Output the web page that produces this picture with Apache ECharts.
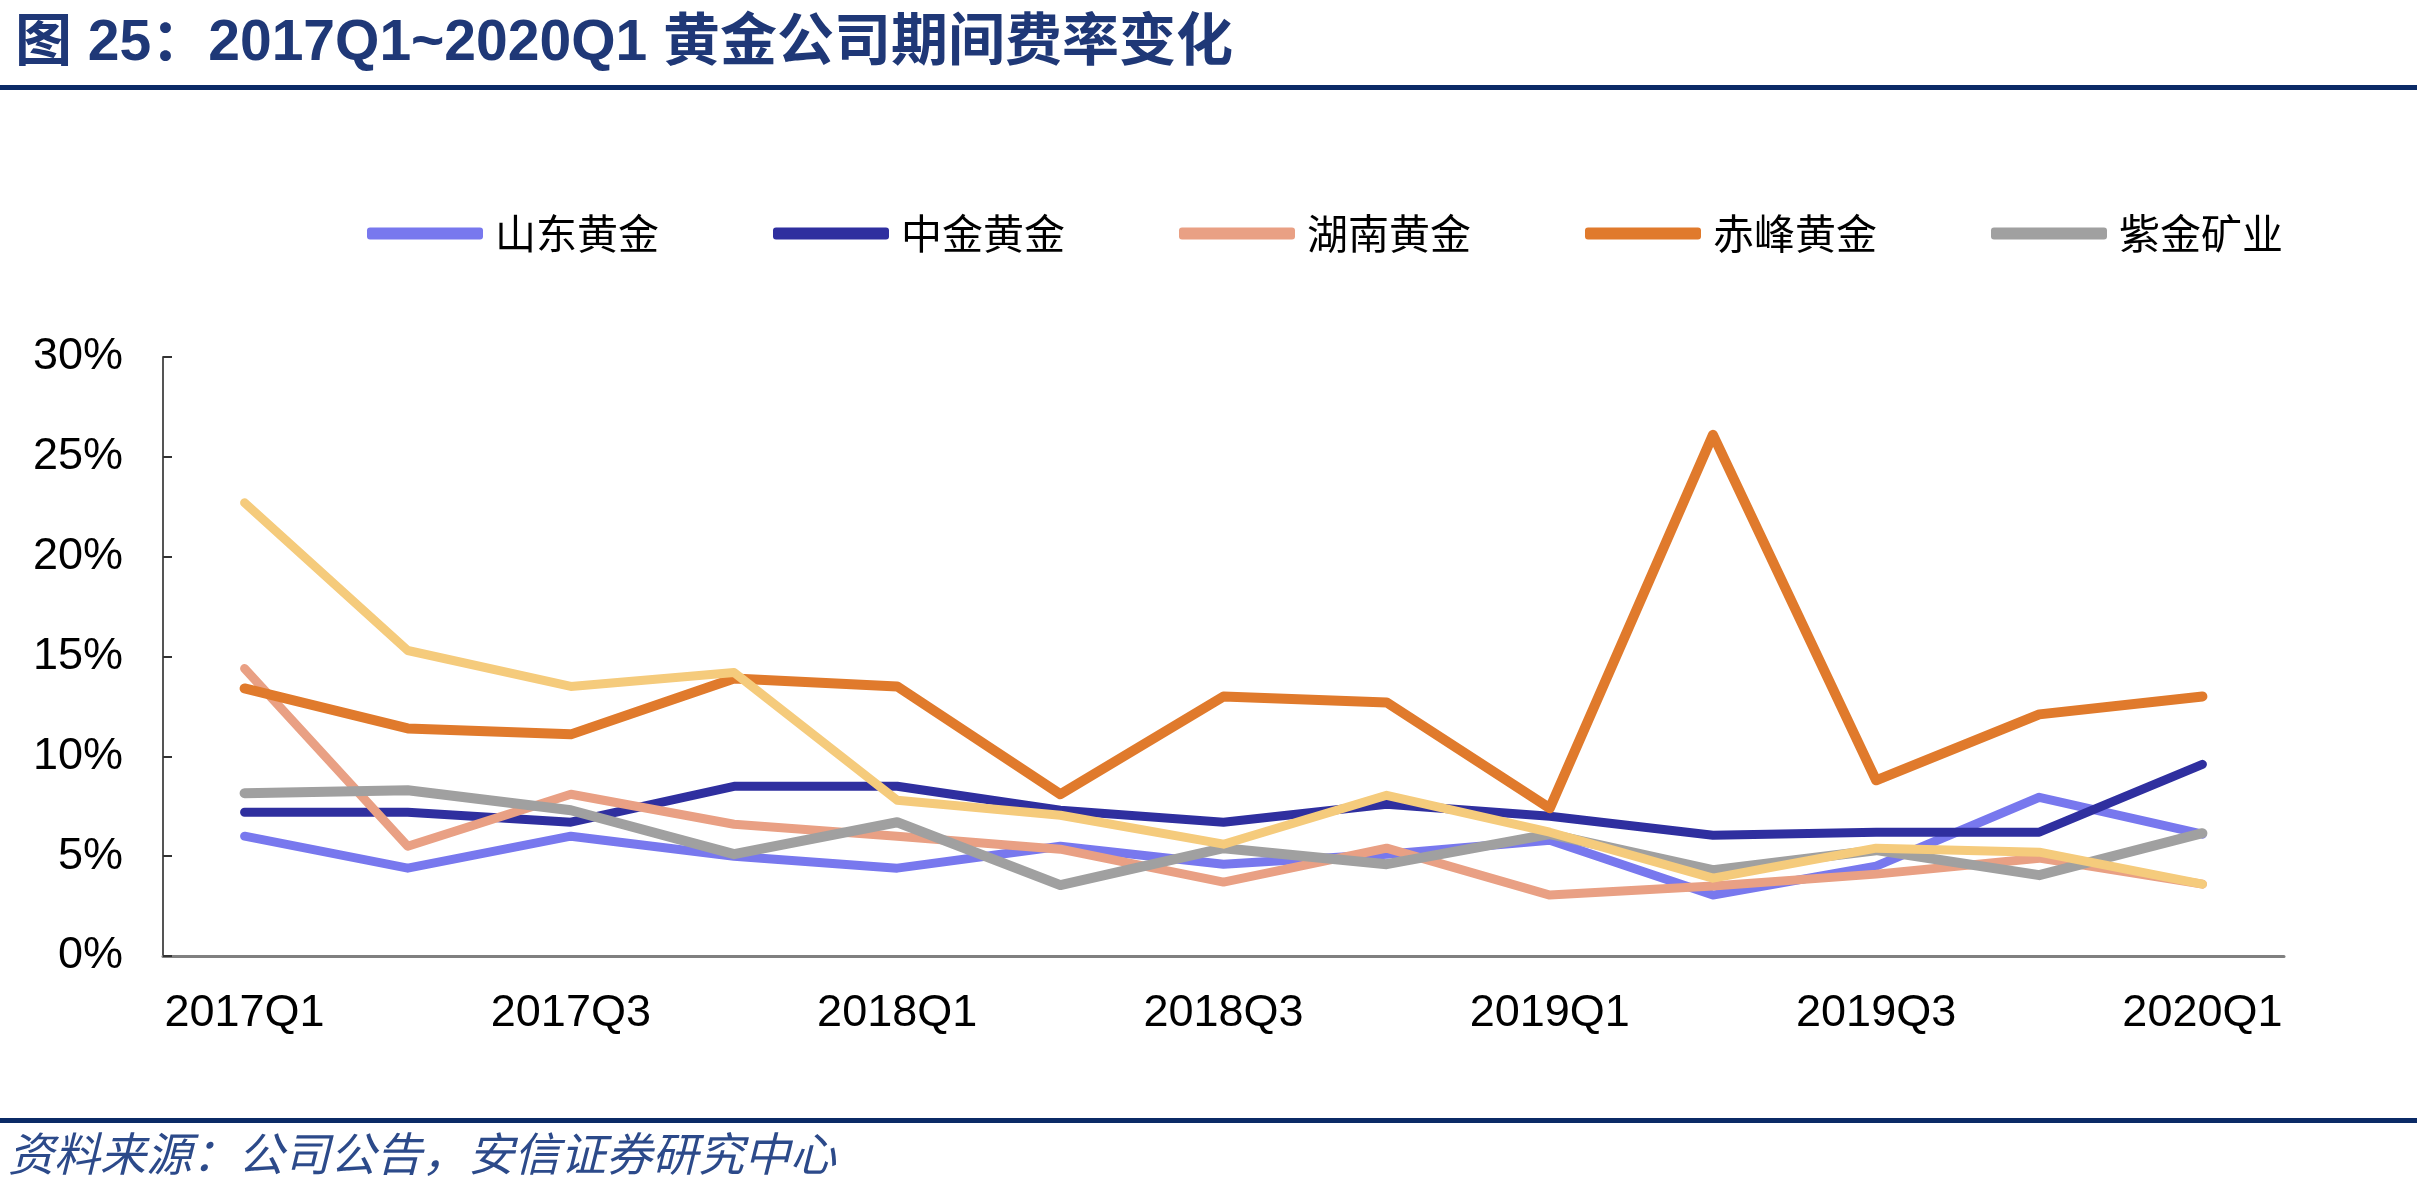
<!DOCTYPE html>
<html style="height: 100%">
<head>
    <meta charset="utf-8">
    <title>黄金公司期间费率变化</title>
</head>
<body style="height: 100%; margin: 0; background: #fff">
    <div id="container" style="height: 100%"></div>
    <script src="https://cdn.jsdelivr.net/npm/echarts@6/dist/echarts.min.js"></script>
    <script type="text/javascript">
        // 季度
        var quarters = ['2017Q1', '2017Q2', '2017Q3', '2017Q4', '2018Q1', '2018Q2', '2018Q3',
            '2018Q4', '2019Q1', '2019Q2', '2019Q3', '2019Q4', '2020Q1'];

        // 期间费率 (%)
        var shandong = [6.0, 4.4, 6.0, 5.0, 4.4, 5.5, 4.6, 5.1, 5.8, 3.05, 4.5, 7.95, 6.1];
        var zhongjin = [7.2, 7.2, 6.7, 8.5, 8.5, 7.3, 6.7, 7.6, 7.0, 6.05, 6.2, 6.2, 9.6];
        var hunan = [14.4, 5.5, 8.1, 6.6, 6.0, 5.35, 3.7, 5.4, 3.05, 3.5, 4.1, 4.9, 3.6];
        var chifeng = [13.4, 11.4, 11.1, 13.9, 13.5, 8.1, 13.0, 12.7, 7.4, 26.1, 8.8, 12.1, 13.0];
        var zijin = [8.15, 8.3, 7.3, 5.1, 6.7, 3.55, 5.4, 4.6, 6.1, 4.3, 5.3, 4.05, 6.15];
        // 图中第六条线（图例里没有）
        var unlabeled = [22.7, 15.3, 13.5, 14.2, 7.8, 7.05, 5.6, 8.05, 6.2, 3.9, 5.4, 5.2, 3.6];

        var yTicks = [0, 30, 5]; // min, max, interval

        var dom = document.getElementById("container");
        var myChart = echarts.init(dom);

        var latin = "'Liberation Sans', Arial, 'Noto Sans CJK SC', sans-serif";
        var cjk = "'Noto Sans CJK SC', sans-serif";

        function line(name, data, color, width) {
            return {
                name: name,
                type: 'line',
                data: data,
                symbol: 'none',
                lineStyle: { color: color, width: width, cap: 'round', join: 'round' },
                itemStyle: { color: color }
            };
        }

        var option = {
            animation: false,
            backgroundColor: '#fff',
            title: {
                text: '图 25：2017Q1~2020Q1 黄金公司期间费率变化',
                left: 10,
                top: 11,
                textStyle: {
                    fontFamily: latin,
                    fontSize: 57,
                    fontWeight: 'bold',
                    color: '#1f3877'
                }
            },
            graphic: [
                { type: 'rect', left: 0, top: 85, shape: { width: 2417, height: 5 }, style: { fill: '#0b2a66' } },
                { type: 'rect', left: 0, top: 1118, shape: { width: 2417, height: 5 }, style: { fill: '#0b2a66' } },
                {
                    type: 'text', left: 8, top: 1131,
                    style: {
                        text: '资料来源：公司公告，安信证券研究中心',
                        font: 'italic 46px ' + cjk,
                        fill: '#2c4a8a'
                    }
                }
            ],
            legend: {
                data: ['山东黄金', '中金黄金', '湖南黄金', '赤峰黄金', '紫金矿业'],
                left: 362,
                top: 208,
                icon: 'roundRect',
                itemWidth: 116,
                itemHeight: 12,
                itemGap: 114,
                textStyle: {
                    fontFamily: cjk,
                    fontSize: 41,
                    color: '#000',
                    padding: [0, 0, 0, 7]
                }
            },
            grid: {
                left: 163,
                right: 133,
                top: 357,
                bottom: 244
            },
            xAxis: {
                type: 'category',
                data: quarters,
                boundaryGap: true,
                axisLine: { lineStyle: { color: '#808080', width: 3 } },
                axisTick: { inside: true, length: 15, interval: 0, lineStyle: { color: '#333', width: 2 } },
                axisLabel: {
                    interval: 1,
                    margin: 35,
                    fontFamily: latin,
                    fontSize: 45,
                    color: '#000'
                }
            },
            yAxis: {
                type: 'value',
                min: yTicks[0],
                max: yTicks[1],
                interval: yTicks[2],
                splitLine: { show: false },
                axisLine: { show: true, lineStyle: { color: '#555', width: 2 } },
                axisTick: { show: true, inside: true, length: 9, lineStyle: { color: '#333', width: 2 } },
                axisLabel: {
                    formatter: '{value}%',
                    margin: 40,
                    fontFamily: latin,
                    fontSize: 45,
                    color: '#000'
                }
            },
            series: [
                line('山东黄金', shandong, '#7878ee', 9),
                line('中金黄金', zhongjin, '#2f2f9f', 9),
                line('湖南黄金', hunan, '#e9a084', 9),
                line('赤峰黄金', chifeng, '#e07a2c', 10),
                line('紫金矿业', zijin, '#a0a0a0', 10),
                line('未标注', unlabeled, '#f5cb7c', 9)
            ]
        };

        myChart.setOption(option);
    </script>
</body>
</html>
